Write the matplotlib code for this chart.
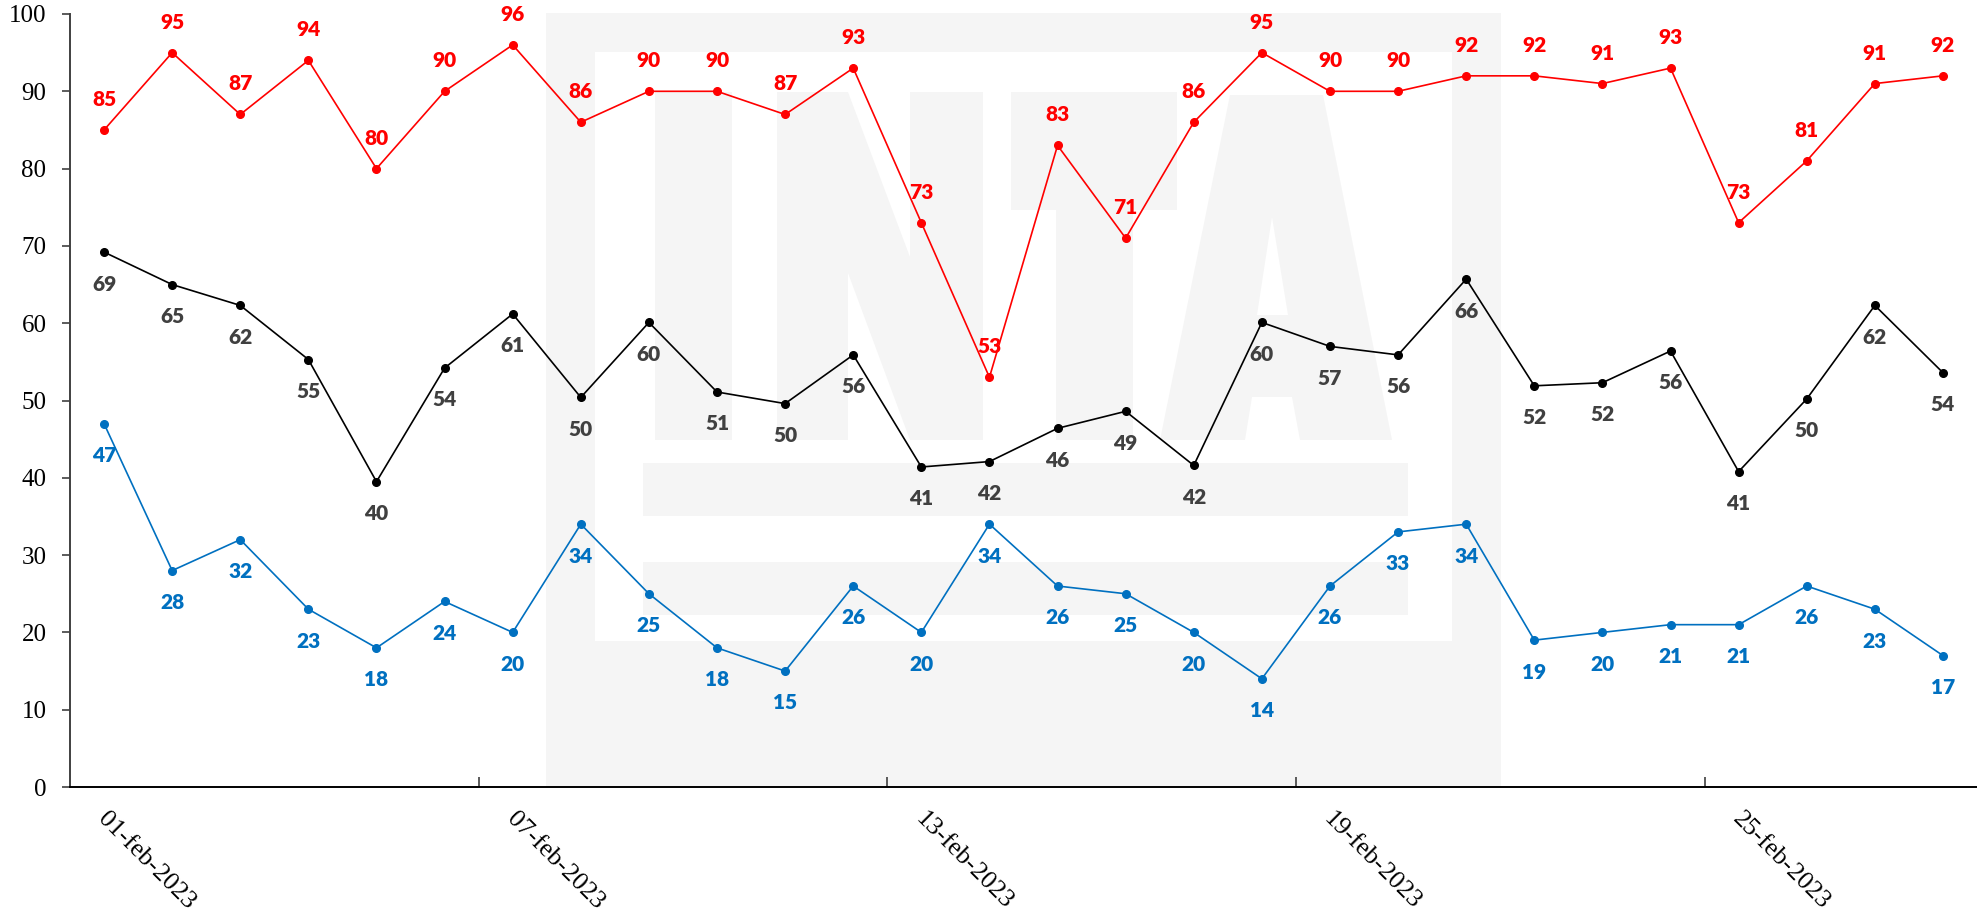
import matplotlib
matplotlib.use("Agg")
import matplotlib.pyplot as plt
import matplotlib.transforms as mtrans
from matplotlib.patches import Polygon

# data
fechas = [f"{d:02d}-feb-2023" for d in range(1, 29)]
hr_max = [85, 95, 87, 94, 80, 90, 96, 86, 90, 90, 87, 93, 73, 53,
          83, 71, 86, 95, 90, 90, 92, 92, 91, 93, 73, 81, 91, 92]
hr_med = [69.2, 65.0, 62.3, 55.3, 39.5, 54.2, 61.2, 50.4, 60.1, 51.1, 49.6, 55.9, 41.4, 42.1,
          46.4, 48.6, 41.6, 60.1, 57.0, 55.9, 65.7, 51.9, 52.3, 56.4, 40.8, 50.2, 62.3, 53.6]
hr_min = [47, 28, 32, 23, 18, 24, 20, 34, 25, 18, 15, 26, 20, 34,
          26, 25, 20, 14, 26, 33, 34, 19, 20, 21, 21, 26, 23, 17]

W, H = 1977, 916
fig = plt.figure(figsize=(W / 100, H / 100), dpi=100)
ax = fig.add_axes([70 / W, 1 - 787 / H, 1 - 70 / W, (787 - 14) / H])
ax.patch.set_alpha(0)


def px(pts):
    return [(x / W, 1 - y / H) for x, y in pts]


# INTA watermark (light grey logo behind the plot)
wm = "#f5f5f5"
def poly(pts, color):
    fig.add_artist(Polygon(px(pts), closed=True, facecolor=color, edgecolor="none",
                           transform=fig.transFigure, zorder=-5))

def rect(x0, y0, x1, y1, color):
    poly([(x0, y0), (x1, y0), (x1, y1), (x0, y1)], color)

rect(546, 13, 1501, 787, wm)
rect(595, 52, 1452, 641, "white")
rect(655, 92, 732, 440, wm)  # I
poly([(777, 92), (848, 92), (910, 257), (910, 92), (983, 92), (983, 440),
      (910, 440), (848, 273), (848, 440), (777, 440)], wm)  # N
rect(1011, 92, 1177, 210, wm)  # T
rect(1056, 210, 1133, 440, wm)
poly([(1230, 95), (1323, 95), (1392, 440), (1300, 440), (1292, 397),
      (1252, 397), (1245, 440), (1160, 440)], wm)  # A
poly([(1272, 217), (1288, 315), (1257, 315)], "white")
rect(643, 463, 1408, 516, wm)
rect(643, 562, 1408, 615, wm)

x = list(range(len(fechas)))
series = [
    (hr_max, "#ff0000", "#ff0000", 22),
    (hr_med, "#000000", "#404040", -23),
    (hr_min, "#0070c0", "#0070c0", -23),
]
for vals, c, lc, off in series:
    ax.plot(x, vals, color=c, lw=1.2, marker="o", ms=5.5, zorder=3)
    for xi, v in zip(x, vals):
        ax.annotate(f"{v:.0f}", (xi, v), xytext=(0, off), textcoords="offset points",
                    ha="center", va="center", color=lc, fontsize=15,
                    fontweight=800, family="Lato", zorder=4)

ax.set_xlim(-0.5, len(fechas) - 0.5)
ax.set_ylim(0, 100)
ax.set_yticks(range(0, 101, 10))
ax.tick_params(axis="y", direction="out", length=6, width=1.2, color="#404040",
               pad=11, labelsize=18)
for lab in ax.get_yticklabels():
    lab.set_family("Liberation Serif")

ax.set_xticks(x[::6])
ax.set_xticklabels(fechas[::6], rotation=-45, ha="left", va="top",
                   rotation_mode="anchor", family="Liberation Serif", fontsize=18.5)
ax.set_xticks([5.5, 11.5, 17.5, 23.5], minor=True)
ax.tick_params(axis="x", which="major", length=0, pad=15)
ax.tick_params(axis="x", which="minor", direction="in", length=7, width=1.2, color="#404040")
shift = mtrans.ScaledTranslation(5 / 100, 0, fig.dpi_scale_trans)
for lab in ax.get_xticklabels():
    lab.set_transform(lab.get_transform() + shift)

for s in ["top", "right"]:
    ax.spines[s].set_visible(False)
ax.spines["left"].set_color("#404040")
ax.spines["left"].set_linewidth(1.4)
ax.spines["bottom"].set_color("#000000")
ax.spines["bottom"].set_linewidth(1.4)

fig.savefig("out.png", dpi=100)
